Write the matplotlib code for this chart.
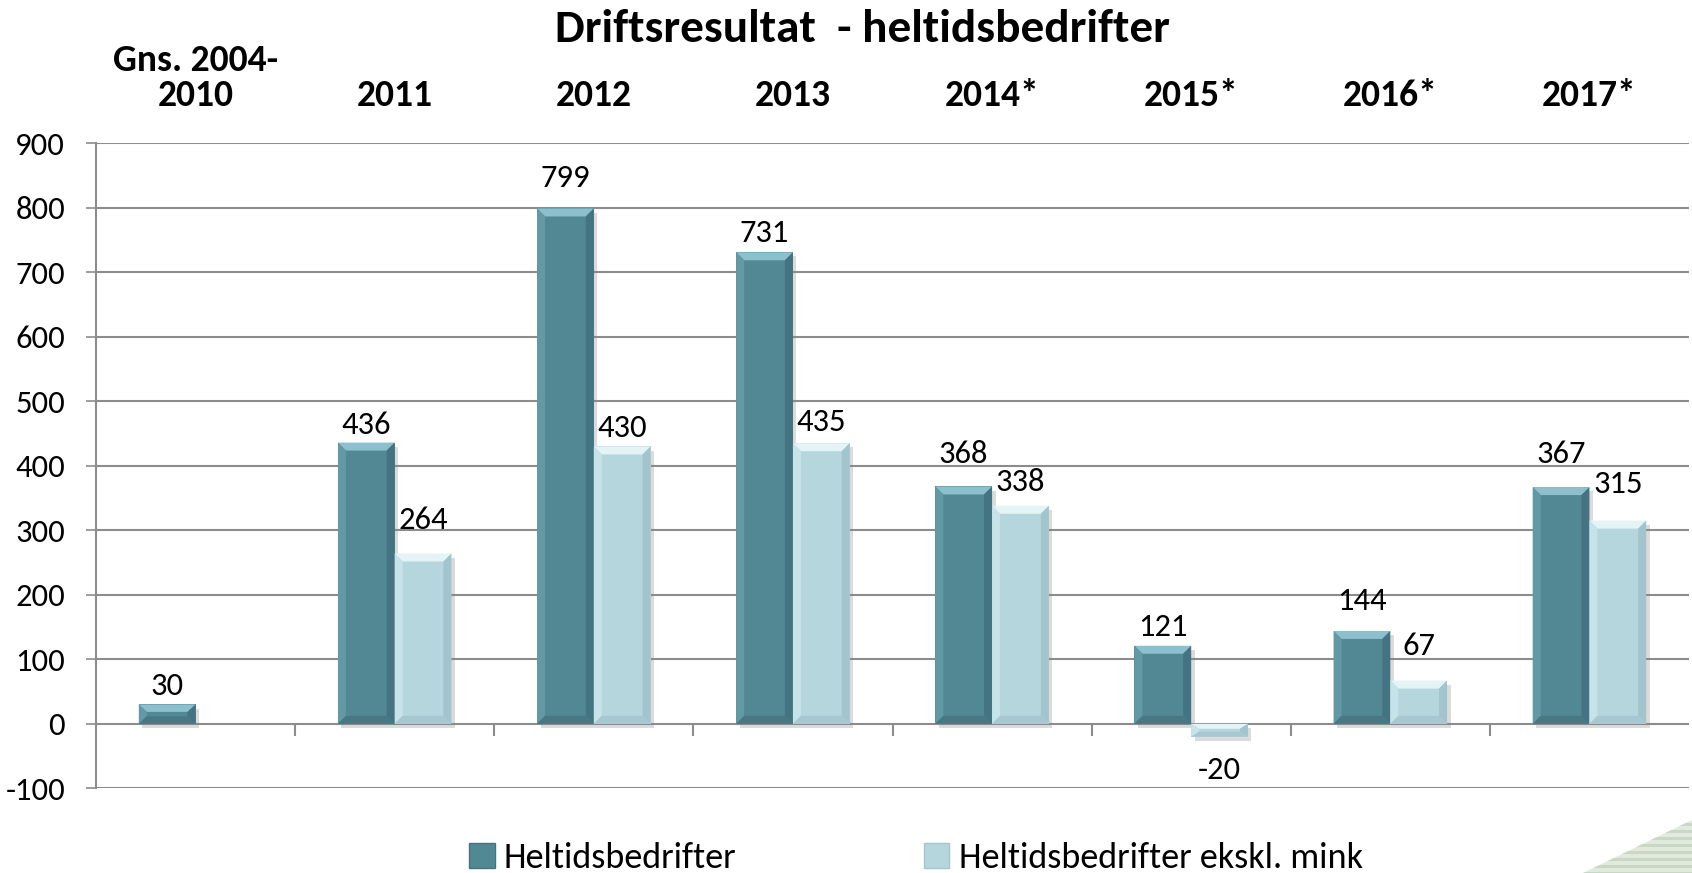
import numpy as np
import matplotlib
matplotlib.use("Agg")
import matplotlib.pyplot as plt
from matplotlib.patches import Polygon, Patch
import matplotlib.patheffects as pe

# ---------------- data ----------------
categories = ["Gns. 2004-\n2010", "2011", "2012", "2013", "2014*", "2015*", "2016*", "2017*"]
heltid = [30, 436, 799, 731, 368, 121, 144, 367]
ekskl = [np.nan, 264, 430, 435, 338, -20, 67, 315]
yticks = [-100, 0, 100, 200, 300, 400, 500, 600, 700, 800, 900]
title = "Driftsresultat  - heltidsbedrifter"
legend_labels = ["Heltidsbedrifter", "Heltidsbedrifter ekskl. mink"]

# ---------------- layout / style ----------------
FONT = ["Carlito", "Lato", "DejaVu Sans"]
plt.rcParams["font.family"] = FONT
W, H = 1692, 873
dark = dict(base="#528794", top="#8CC0CC", left="#6398A5", right="#447482", bottom="#477884")
light = dict(base="#B6D6DE", top="#E4F3F6", left="#C7E2E8", right="#A1C4CD", bottom="#A7C8D0")
bar_w = 0.285
bevel_px = 8
dark_gap = [18, 18, 30, 19, 32, 19, 30, 33]      # label centre distance (px) from bar end
light_gap = [0, 34, 18, 21, 24, 33, 35, 37]
grid_c = "#8C8C8C"

fig = plt.figure(figsize=(W / 100, H / 100), dpi=100)
ax = fig.add_axes([96 / W, 1 - 788.3 / H, (1689 - 96) / W, (788.3 - 143.3) / H])
x = np.arange(len(categories))
ax.set_xlim(-0.5, len(categories) - 0.5)
ax.set_ylim(yticks[0], yticks[-1])

fig.canvas.draw()
p0 = ax.transData.transform((0, 0))
p1 = ax.transData.transform((1, 100))
px_x = p1[0] - p0[0]
px_y = (p1[1] - p0[1]) / 100.0

shadow = [pe.SimplePatchShadow(offset=(2.5, -3), shadow_rgbFace="#888888", alpha=0.3), pe.Normal()]


def bevel_bars(xs, vals, col):
    bars = ax.bar(xs, vals, width=bar_w, color=col["base"], zorder=3, linewidth=0)
    for b in bars:
        h = b.get_height()
        if np.isnan(h):
            continue
        b.set_path_effects(shadow)
        x0 = b.get_x(); x1 = x0 + b.get_width()
        y0 = min(b.get_y(), b.get_y() + h); y1 = max(b.get_y(), b.get_y() + h)
        dx = bevel_px / px_x
        dy = min(bevel_px / px_y, (y1 - y0) / 2.6)
        polys = [
            ([(x0, y1), (x1, y1), (x1 - dx, y1 - dy), (x0 + dx, y1 - dy)], col["top"]),
            ([(x0, y0), (x0, y1), (x0 + dx, y1 - dy), (x0 + dx, y0 + dy)], col["left"]),
            ([(x1, y0), (x1, y1), (x1 - dx, y1 - dy), (x1 - dx, y0 + dy)], col["right"]),
            ([(x0, y0), (x1, y0), (x1 - dx, y0 + dy), (x0 + dx, y0 + dy)], col["bottom"]),
        ]
        for pts, c in polys:
            ax.add_patch(Polygon(pts, closed=True, facecolor=c, edgecolor="none", zorder=4))
    return bars


b1 = bevel_bars(x - bar_w / 2, heltid, dark)
b2 = bevel_bars(x + bar_w / 2, ekskl, light)

# data labels
for bars, vals, gaps in ((b1, heltid, dark_gap), (b2, ekskl, light_gap)):
    for b, v, g in zip(bars, vals, gaps):
        if np.isnan(v):
            continue
        cx = b.get_x() + b.get_width() / 2
        off = g if v >= 0 else -g
        ax.annotate(f"{int(v)}", (cx, v), xytext=(0, off * 72 / 100), textcoords="offset points",
                    ha="center", va="center", fontsize=23.5, color="black", zorder=6)

# axes styling
ax.set_yticks(yticks)
ax.set_yticklabels([str(t) for t in yticks], fontsize=23.5)
ax.yaxis.grid(True, color=grid_c, linewidth=1.5, zorder=1)
ax.set_axisbelow(True)
ax.tick_params(axis="y", length=7.2, width=1.2, color=grid_c, pad=15)
ax.set_xticks([])
for s in ("top", "right", "bottom"):
    ax.spines[s].set_visible(False)
ax.spines["left"].set_color(grid_c)
ax.spines["left"].set_linewidth(1.5)
# category boundary ticks below zero line
tick_len = 12 / px_y
ax.vlines(x[1:] - 0.5, 0, -tick_len, color=grid_c, linewidth=1.5, zorder=2)

# category labels above the plot
for xi, lab in zip(x, categories):
    xf = fig.transFigure.inverted().transform(ax.transData.transform((xi, 0)))[0]
    fig.text(xf, 1 - 106 / H, lab, ha="center", va="baseline", fontsize=27,
             fontweight="bold", linespacing=1.08)

fig.text(862 / W, 1 - 29 / H, title, ha="center", va="center", fontsize=34, fontweight="bold")

# legend
handles = [Patch(facecolor=dark["base"], edgecolor=dark["right"]),
           Patch(facecolor=light["base"], edgecolor=light["right"])]
fig.legend(handles, legend_labels, loc="center", bbox_to_anchor=(916 / W, 1 - 858 / H), ncol=2,
           frameon=False, fontsize=26, handlelength=0.7, handleheight=0.7, handletextpad=0.25,
           columnspacing=5.2, borderpad=0, borderaxespad=0)

# decorative striped corner
tri = Polygon([(1583 / W, 0), (1, 0), (1, 1 - 820 / H)], closed=True, transform=fig.transFigure,
              facecolor="#E2EADF", edgecolor="none")
fig.patches.append(tri)
for yy in np.arange(0, 60, 7):
    ln = plt.Line2D([1583 / W, 1], [yy / H, yy / H], transform=fig.transFigure, color="#C9D8C5",
                    linewidth=2.2)
    ln.set_clip_path(tri)
    fig.lines.append(ln)

fig.savefig("out.png", dpi=100)
